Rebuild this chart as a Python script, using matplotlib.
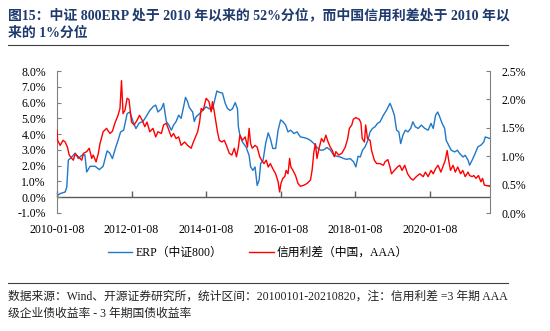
import pandas as pd
import matplotlib.pyplot as plt
import matplotlib.dates as mdates
from matplotlib.ticker import FuncFormatter

plt.rcParams["font.family"] = ["Liberation Serif", "Noto Sans CJK SC"]

TITLE = ("图15：中证 800ERP 处于 2010 年以来的 52%分位，而中国信用利差处于 2010 年以\n"
         "来的 1%分位")
SOURCE = ("数据来源：Wind、开源证券研究所，统计区间：20100101-20210820，注：信用利差 =3 年期 AAA\n"
          "级企业债收益率 - 3 年期国债收益率")

ERP_LABEL = "ERP（中证800）"
SPREAD_LABEL = "信用利差（中国，AAA）"

# ERP (left axis, %)
erp_dates = [
    "2010-01-08", "2010-01-14", "2010-02-08", "2010-03-29", "2010-04-14", "2010-04-29",
    "2010-06-02", "2010-07-05", "2010-08-05", "2010-09-08", "2010-10-08", "2010-10-26",
    "2010-11-29", "2011-01-17", "2011-02-26", "2011-04-05", "2011-05-14", "2011-06-08",
    "2011-07-05", "2011-08-08", "2011-08-29", "2011-09-23", "2011-10-23", "2011-11-26",
    "2011-12-23", "2012-01-23", "2012-02-20", "2012-03-23", "2012-04-29", "2012-06-02",
    "2012-07-05", "2012-08-05", "2012-09-01", "2012-09-23", "2012-10-26", "2012-11-17",
    "2012-12-14", "2013-01-08", "2013-02-01", "2013-02-23", "2013-03-20", "2013-04-14",
    "2013-05-08", "2013-05-29", "2013-06-20", "2013-07-11", "2013-07-26", "2013-08-29",
    "2013-09-14", "2013-10-02", "2013-11-05", "2013-12-05", "2014-01-08", "2014-02-08",
    "2014-03-11", "2014-03-29", "2014-04-23", "2014-05-17", "2014-06-17", "2014-07-14",
    "2014-08-05", "2014-08-29", "2014-09-23", "2014-10-20", "2014-11-11", "2014-11-20",
    "2014-12-05", "2014-12-29", "2015-02-02", "2015-03-05", "2015-03-20", "2015-04-11",
    "2015-05-02", "2015-05-23", "2015-06-11", "2015-06-26", "2015-07-20", "2015-08-14",
    "2015-09-08", "2015-09-29", "2015-10-23", "2015-11-20", "2015-12-14", "2016-01-08",
    "2016-01-29", "2016-02-26", "2016-03-20", "2016-04-14", "2016-05-17", "2016-06-17",
    "2016-07-20", "2016-08-23", "2016-09-23", "2016-10-26", "2016-11-29", "2016-12-29",
    "2017-02-01", "2017-03-05", "2017-04-05", "2017-05-08", "2017-06-11", "2017-07-11",
    "2017-08-14", "2017-09-17", "2017-10-17", "2017-11-20", "2017-12-23", "2018-01-14",
    "2018-02-05", "2018-02-26", "2018-03-20", "2018-04-14", "2018-05-11", "2018-06-02",
    "2018-06-26", "2018-07-20", "2018-08-14", "2018-09-08", "2018-10-11", "2018-11-11",
    "2018-12-14", "2018-12-29", "2019-01-26", "2019-02-17", "2019-03-11", "2019-03-29",
    "2019-04-20", "2019-05-14", "2019-06-08", "2019-07-05", "2019-07-26", "2019-08-20",
    "2019-09-17", "2019-10-17", "2019-11-20", "2019-12-23", "2020-01-20", "2020-02-11",
    "2020-03-05", "2020-03-26", "2020-04-14", "2020-05-08", "2020-06-02", "2020-06-17",
    "2020-07-11", "2020-08-05", "2020-09-08", "2020-10-05", "2020-10-26", "2020-11-29",
    "2020-12-20", "2021-01-17", "2021-02-01", "2021-02-26", "2021-03-20", "2021-04-23",
    "2021-05-23", "2021-06-20", "2021-07-05", "2021-08-20",
]
erp_values = [
    -0.30, 0.12, 0.23, 0.33, 0.65, 2.35,
    2.55, 2.80, 2.45, 2.66, 2.70, 1.60,
    1.96, 1.96, 1.75, 1.96, 2.94, 2.80,
    2.45, 3.20, 3.60, 4.14, 4.25, 5.30,
    5.40, 4.80, 4.35, 4.70, 4.80, 5.14,
    5.50, 5.73, 5.84, 5.40, 5.60, 5.95,
    4.80, 4.57, 4.25, 4.57, 4.80, 5.20,
    5.00, 5.63, 6.33, 6.05, 5.70, 5.40,
    4.80, 5.10, 5.30, 5.50, 5.73, 5.60,
    5.60, 6.05, 6.73, 6.65, 6.60, 5.95,
    5.63, 5.50, 5.60, 6.00, 5.60, 4.46,
    3.93, 3.50, 3.20, 2.65, 1.92, 1.70,
    1.92, 0.75, 1.07, 2.13, 2.35, 3.40,
    4.08, 3.72, 3.09, 3.09, 4.25, 4.90,
    4.80, 4.57, 4.14, 4.25, 4.04, 4.14,
    3.82, 3.78, 3.72, 3.60, 3.40, 3.15,
    2.98, 3.00, 3.15, 3.00, 2.66, 2.60,
    2.55, 2.45, 2.40, 2.45, 2.24, 1.92,
    2.60, 2.55, 2.98, 3.19, 3.60, 4.14,
    4.36, 4.46, 4.68, 4.78, 5.20, 5.52,
    5.95, 5.73, 5.20, 4.25, 4.14, 3.40,
    3.93, 4.25, 4.14, 4.36, 4.78, 4.46,
    4.36, 4.57, 4.36, 4.25, 4.68, 4.36,
    5.20, 5.40, 5.10, 4.68, 4.36, 3.60,
    3.30, 2.98, 2.87, 2.98, 2.77, 2.55,
    2.66, 2.35, 2.03, 2.35, 2.66, 3.19,
    3.30, 3.50, 3.82, 3.72,
]

# credit spread (right axis, %)
spread_dates = [
    "2010-01-08", "2010-01-14", "2010-02-08", "2010-03-08", "2010-03-29", "2010-04-20",
    "2010-05-08", "2010-06-02", "2010-06-17", "2010-07-05", "2010-08-05", "2010-09-08",
    "2010-09-23", "2010-10-26", "2010-11-20", "2010-12-14", "2010-12-29", "2011-01-26",
    "2011-02-17", "2011-03-05", "2011-04-05", "2011-05-08", "2011-06-11", "2011-07-05",
    "2011-07-29", "2011-08-29", "2011-09-17", "2011-10-02", "2011-10-17", "2011-11-05",
    "2011-11-26", "2011-12-14", "2012-01-08", "2012-02-02", "2012-03-02", "2012-03-26",
    "2012-04-23", "2012-05-17", "2012-06-08", "2012-07-05", "2012-08-05", "2012-09-01",
    "2012-09-23", "2012-10-26", "2012-11-17", "2012-12-14", "2013-01-08", "2013-02-01",
    "2013-02-23", "2013-03-20", "2013-04-14", "2013-05-08", "2013-06-11", "2013-07-11",
    "2013-08-14", "2013-09-05", "2013-09-26", "2013-10-17", "2013-11-05", "2013-11-20",
    "2013-12-11", "2014-01-08", "2014-02-05", "2014-02-26", "2014-03-11", "2014-03-29",
    "2014-04-14", "2014-04-29", "2014-05-17", "2014-06-11", "2014-07-05", "2014-07-26",
    "2014-08-23", "2014-09-17", "2014-10-11", "2014-11-01", "2014-11-20", "2014-12-05",
    "2014-12-29", "2015-01-26", "2015-02-17", "2015-03-05", "2015-03-20", "2015-04-05",
    "2015-05-02", "2015-05-23", "2015-06-17", "2015-07-05", "2015-07-29", "2015-08-20",
    "2015-09-08", "2015-09-29", "2015-10-23", "2015-11-20", "2015-12-14", "2015-12-29",
    "2016-01-11", "2016-01-29", "2016-02-17", "2016-03-02", "2016-03-20", "2016-04-05",
    "2016-04-17", "2016-05-08", "2016-06-02", "2016-06-26", "2016-07-20", "2016-08-23",
    "2016-09-23", "2016-10-26", "2016-11-11", "2016-11-29", "2016-12-14", "2016-12-29",
    "2017-01-17", "2017-02-11", "2017-03-05", "2017-03-26", "2017-04-17", "2017-05-08",
    "2017-05-29", "2017-06-17", "2017-07-02", "2017-07-29", "2017-08-29", "2017-10-02",
    "2017-10-26", "2017-11-11", "2017-12-05", "2017-12-20", "2018-01-14", "2018-02-02",
    "2018-02-17", "2018-03-05", "2018-03-17", "2018-04-08", "2018-04-20", "2018-05-08",
    "2018-06-02", "2018-06-17", "2018-07-14", "2018-08-05", "2018-09-08", "2018-10-11",
    "2018-10-26", "2018-11-23", "2018-12-14", "2018-12-29", "2019-01-26", "2019-02-26",
    "2019-03-20", "2019-04-11", "2019-05-08", "2019-06-05", "2019-07-05", "2019-07-29",
    "2019-08-29", "2019-10-02", "2019-11-05", "2019-11-26", "2019-12-23", "2020-01-20",
    "2020-02-11", "2020-03-05", "2020-03-29", "2020-04-26", "2020-05-14", "2020-06-08",
    "2020-06-26", "2020-07-11", "2020-07-29", "2020-08-23", "2020-09-14", "2020-10-08",
    "2020-11-05", "2020-11-26", "2020-12-20", "2021-01-17", "2021-02-01", "2021-02-26",
    "2021-03-14", "2021-04-05", "2021-04-29", "2021-05-23", "2021-06-08", "2021-06-26",
    "2021-08-20",
]
spread_values = [
    1.46, 1.28, 1.19, 1.28, 1.25, 1.16,
    1.02, 0.96, 0.93, 1.04, 0.99, 0.93,
    1.05, 1.08, 1.14, 0.96, 1.02, 0.90,
    1.05, 1.22, 1.43, 1.49, 1.40, 1.44,
    1.58, 1.72, 1.84, 2.33, 1.75, 1.81,
    2.02, 2.00, 1.60, 1.55, 1.63, 1.72,
    1.63, 1.52, 1.60, 1.43, 1.49, 1.34,
    1.43, 1.40, 1.55, 1.58, 1.46, 1.34,
    1.40, 1.31, 1.34, 1.19, 1.25, 1.19,
    1.14, 1.25, 1.34, 1.43, 1.60, 1.84,
    1.81, 2.02, 1.96, 1.78, 1.96, 1.78,
    1.60, 1.43, 1.28, 1.25, 1.28, 1.19,
    1.05, 1.02, 1.14, 0.99, 1.16, 1.37,
    1.28, 1.34, 1.16, 1.49, 1.22, 1.14,
    1.19, 1.16, 0.99, 0.93, 0.87, 0.93,
    0.81, 0.87, 0.78, 0.69, 0.55, 0.37,
    0.52, 0.61, 0.64, 0.75, 0.69, 0.96,
    0.81, 0.75, 0.66, 0.52, 0.47, 0.49,
    0.52, 0.58, 0.75, 1.08, 1.22, 0.96,
    1.13, 1.31, 1.25, 1.37, 1.25, 1.16,
    1.10, 0.99, 1.08, 1.02, 1.05, 1.16,
    1.31, 1.49, 1.55, 1.65, 1.68, 1.66,
    1.65, 1.58, 1.31, 1.25, 1.55, 1.31,
    1.28, 1.10, 0.93, 0.87, 0.87, 0.84,
    0.90, 0.94, 0.81, 0.69, 0.75, 0.81,
    0.84, 0.75, 0.84, 0.69, 0.61, 0.58,
    0.64, 0.69, 0.64, 0.72, 0.64, 0.75,
    0.69, 0.78, 0.84, 0.72, 0.81, 0.93,
    1.10, 0.93, 0.75, 0.84, 0.72, 0.81,
    0.69, 0.75, 0.64, 0.72, 0.66, 0.64,
    0.66, 0.61, 0.66, 0.55, 0.61, 0.49,
    0.47,
]

left_ticks = [-1, 0, 1, 2, 3, 4, 5, 6, 7, 8]
right_ticks = [0.0, 0.5, 1.0, 1.5, 2.0, 2.5]
x_ticks = ["2010-01-08", "2012-01-08", "2014-01-08", "2016-01-08", "2018-01-08", "2020-01-08"]

BLUE = "#1f78c8"
RED = "#ff0000"
AXIS_GREY = "#808080"
NAVY = "#1f3a6e"

erp_x = pd.to_datetime(erp_dates)
spread_x = pd.to_datetime(spread_dates)

fig = plt.figure(figsize=(5.5, 3.31), dpi=100)
ax = fig.add_axes([57 / 550, 1 - 213 / 331, (490 - 57) / 550, (213 - 71) / 331])
ax2 = ax.twinx()

ax.plot(erp_x, erp_values, color=BLUE, lw=1.0, label=ERP_LABEL)
ax2.plot(spread_x, spread_values, color=RED, lw=1.0, label=SPREAD_LABEL)

ax.set_ylim(-1, 8)
ax.set_yticks(left_ticks)
ax.yaxis.set_major_formatter(FuncFormatter(lambda v, p: f"{v:.1f}%"))
ax2.set_ylim(0, 2.5)
ax2.set_yticks(right_ticks)
ax2.yaxis.set_major_formatter(FuncFormatter(lambda v, p: f"{v:.1f}%"))

ax.set_xlim(pd.Timestamp("2010-01-08"), pd.Timestamp("2021-08-20"))
ax.set_xticks(pd.to_datetime(x_ticks))
ax.xaxis.set_major_formatter(mdates.DateFormatter("%Y-%m-%d"))

for a in (ax, ax2):
    a.spines["top"].set_visible(False)
    a.spines["bottom"].set_visible(False)
    a.spines["left"].set_color(AXIS_GREY)
    a.spines["right"].set_color(AXIS_GREY)
ax.spines["right"].set_visible(False)
ax2.spines["left"].set_visible(False)

ax.tick_params(axis="y", direction="in", length=3, color=AXIS_GREY, labelsize=8.5, pad=8)
ax2.tick_params(axis="y", direction="in", length=3, color=AXIS_GREY, labelsize=8.5, pad=8)
ax.tick_params(axis="x", length=0, labelsize=8.5, pad=8)

# zero line carries the date ticks
ax.axhline(0, color="#595959", lw=1.0, zorder=1)
zero_axis = ax.secondary_xaxis(1 / 9)
zero_axis.set_xticks(pd.to_datetime(x_ticks))
zero_axis.tick_params(axis="x", direction="in", length=4, width=1.0, color="#606060",
                      labelbottom=False, labeltop=False)
zero_axis.spines["bottom"].set_visible(False)
zero_axis.spines["top"].set_visible(False)

h1, l1 = ax.get_legend_handles_labels()
h2, l2 = ax2.get_legend_handles_labels()
fig.legend(h1 + h2, l1 + l2, loc="center", bbox_to_anchor=(258 / 550, 1 - 253 / 331),
           ncol=2, frameon=False, fontsize=8.5, handlelength=2.1, columnspacing=2.2,
           handletextpad=0.3)

fig.text(8 / 550, 1 - 24 / 331, TITLE, color=NAVY, fontsize=10, fontweight="bold",
         va="center", ha="left", linespacing=1.45)
fig.add_artist(plt.Line2D([8 / 550, 508 / 550], [1 - 45 / 331, 1 - 45 / 331],
                          color="#404040", lw=0.8))
fig.add_artist(plt.Line2D([8 / 550, 508 / 550], [1 - 283 / 331, 1 - 283 / 331],
                          color="#404040", lw=0.8))
fig.text(8 / 550, 1 - 305 / 331, SOURCE, color="#222222", fontsize=8.5,
         va="center", ha="left", linespacing=1.6)

fig.savefig("out.png", dpi=100)
